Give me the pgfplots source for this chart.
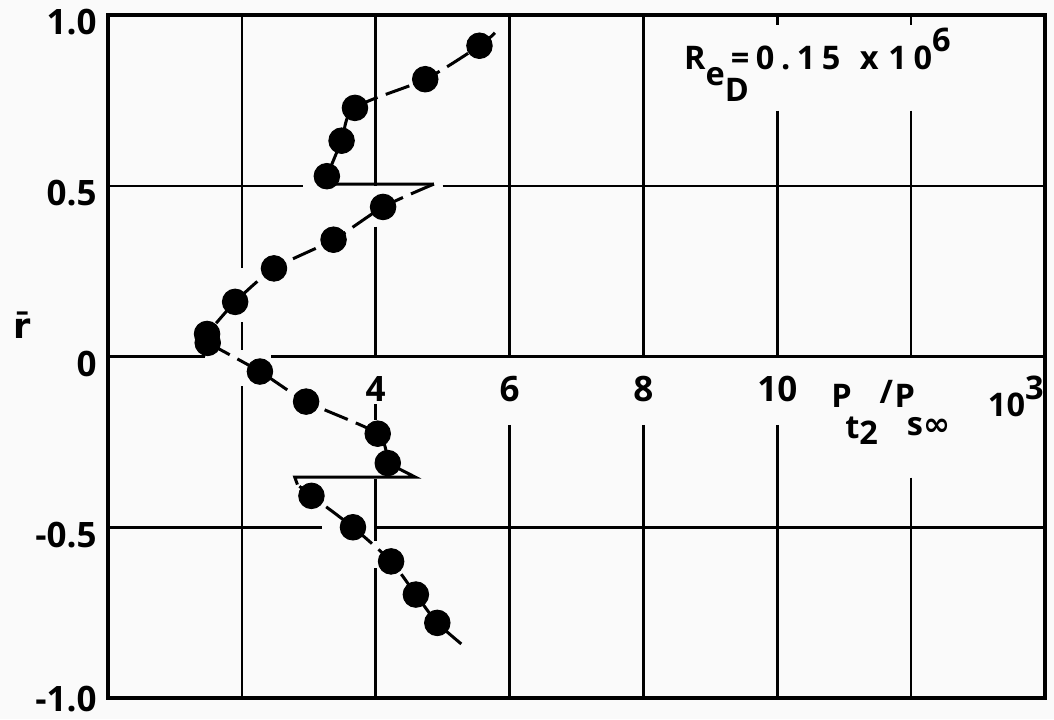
\documentclass[border=0pt]{standalone}
\usepackage{pgfplots}
\pgfplotsset{compat=1.18}
\usepackage{fontspec}
\setmainfont{Open Sans}
\newfontfamily\notefam{Open Sans}[LetterSpace=20]
\newfontfamily\symfam{DejaVu Sans}

% total-pressure ratio vs. radius, Re_D = 0.15e6
\pgfplotstableread{
x     y
5.55  0.910
4.74  0.812
3.69  0.728
3.49  0.632
3.27  0.528
4.11  0.438
3.37  0.342
2.48  0.258
1.90  0.160
1.48  0.066
1.49  0.040
2.27 -0.044
2.96 -0.132
4.03 -0.226
4.18 -0.312
3.04 -0.408
3.66 -0.500
4.23 -0.600
4.60 -0.697
4.92 -0.780
}\measured

\newcommand{\tickfont}{\fontsize{14}{14}\selectfont\bfseries}
\newcommand{\notefont}{\notefam\fontsize{13}{13}\selectfont\bfseries}

\begin{document}
\begin{tikzpicture}
\fill[black!2] (-43.2pt,-8.4pt) rectangle (378.4pt,279.2pt);
\begin{axis}[
  at={(0,0)}, anchor=south west,
  scale only axis, width=374.8pt, height=273.2pt,
  xmin=0, xmax=14, ymin=-1, ymax=1,
  axis line style={line width=1.4pt},
  xtick=\empty,
  ytick={-1,-0.5,0,0.5,1},
  yticklabels={\raisebox{5pt}{-1.0},-0.5,0,0.5,1.0},
  major tick length=0pt,
  yticklabel style={font=\tickfont, xshift=-1pt, yshift=-3pt},
  clip=false,
]
% drafted grid, broken where lettering and curves cross it
\begin{scope}[line width=1pt]
\draw (axis cs:0,0.5) -- (axis cs:2.91,0.5);
\draw (axis cs:5.0,0.5) -- (axis cs:14,0.5);
\draw (axis cs:0,0) -- (axis cs:1.45,0);
\draw (axis cs:2.44,0) -- (axis cs:14,0);
\draw (axis cs:0,-0.5) -- (axis cs:3.2,-0.5);
\draw (axis cs:3.98,-0.5) -- (axis cs:14,-0.5);
\draw (axis cs:2,1) -- (axis cs:2,0.26);
\draw (axis cs:2,0.10) -- (axis cs:2,0.02);
\draw (axis cs:2,-0.087) -- (axis cs:2,-1);
\draw (axis cs:4,1) -- (axis cs:4,0.5);
\draw (axis cs:4,0.38) -- (axis cs:4,0);
\draw (axis cs:4,-0.14) -- (axis cs:4,-0.185);
\draw (axis cs:4,-0.36) -- (axis cs:4,-0.54);
\draw (axis cs:4,-0.62) -- (axis cs:4,-1);
\draw (axis cs:6,1) -- (axis cs:6,0);
\draw (axis cs:6,-0.2) -- (axis cs:6,-1);
\draw (axis cs:8,1) -- (axis cs:8,0);
\draw (axis cs:8,-0.2) -- (axis cs:8,-1);
\draw (axis cs:10,1) -- (axis cs:10,0.97);
\draw (axis cs:10,0.72) -- (axis cs:10,0);
\draw (axis cs:10,-0.2) -- (axis cs:10,-1);
\draw (axis cs:12,1) -- (axis cs:12,0.97);
\draw (axis cs:12,0.72) -- (axis cs:12,0);
\draw (axis cs:12,-0.355) -- (axis cs:12,-1);
\end{scope}

% faired curves through the data
\pgfplotsset{fair/.style={black, line width=1.2pt, dash pattern=on 10pt off 3.5pt}}
\addplot[fair, smooth, tension=0.5] coordinates {(5.78,0.948)(5.55,0.91)(4.74,0.812)(3.69,0.728)(3.49,0.632)(3.27,0.528)};
\addplot[black, line width=1.2pt] coordinates {(3.27,0.528)(3.33,0.505)(4.87,0.505)};
\addplot[fair, smooth, tension=0.4] coordinates {(4.87,0.505)(4.11,0.438)(3.37,0.342)(2.48,0.258)(1.90,0.160)(1.48,0.066)};
\addplot[black, line width=1.2pt] coordinates {(1.48,0.05)(1.43,0)};
\addplot[fair, smooth, tension=0.4] coordinates {(1.49,0.040)(2.27,-0.044)(2.96,-0.132)(4.03,-0.226)(4.18,-0.312)};
\addplot[black, line width=1.2pt] coordinates {(4.18,-0.312)(4.59,-0.353)(2.79,-0.353)(2.83,-0.375)};
\addplot[fair, smooth, tension=0.4] coordinates {(2.86,-0.38)(3.04,-0.408)(3.66,-0.500)(4.23,-0.600)(4.60,-0.697)(4.92,-0.780)(5.33,-0.850)};

\addplot[only marks, mark=*, mark size=5.1pt, black] table[x=x,y=y] {\measured};

% lettering inside the field
\node[font=\tickfont] at (axis cs:4,-0.095) {4};
\node[font=\tickfont] at (axis cs:6,-0.095) {6};
\node[font=\tickfont] at (axis cs:8,-0.095) {8};
\node[font=\tickfont] at (axis cs:10,-0.095) {10};
\node[font=\notefont, anchor=base west, inner sep=0pt] at (axis cs:10.80,-0.148)
  {P\hspace{-0.2em}\raisebox{-1.8ex}{t\raisebox{-0.3ex}{2}}\hspace{0.05em}\raisebox{0.2ex}{/}\hspace{0.05em}P\hspace{-0.25em}\raisebox{-1.6ex}{s{\symfam\bfseries ∞}}};
\node[font=\fontsize{13}{13}\selectfont\bfseries, anchor=base west, inner sep=0pt] at (axis cs:13.14,-0.177)
  {10\raisebox{1.0ex}{3}};
\node[font=\notefont, anchor=base west, inner sep=0pt] at (axis cs:8.6,0.84)
  {R\raisebox{-0.9ex}{e\raisebox{-0.9ex}{D}}\hspace{-0.55em}=0.15\hspace{0.6em}x\hspace{0.3em}10\raisebox{1.0ex}{6}};
\node[font=\symfam\fontsize{14}{14}\selectfont\bfseries] at (axis cs:-1.29,0.092) {r̄};
\end{axis}
\pgfresetboundingbox
\path[use as bounding box] (-43.2pt,-8.4pt) rectangle (378.4pt,279.2pt);
\end{tikzpicture}
\end{document}
